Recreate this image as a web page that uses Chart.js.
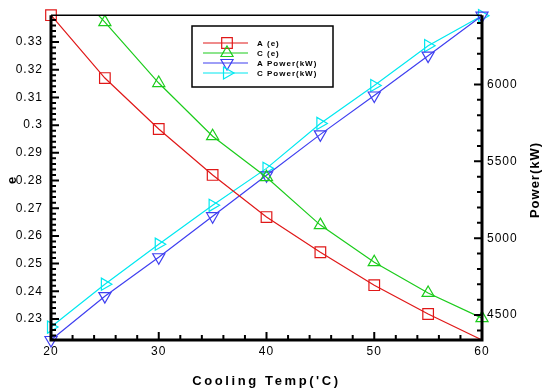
<!DOCTYPE html>
<html>
<head>
<meta charset="utf-8">
<script src="https://cdn.jsdelivr.net/npm/chart.js@4.4.0/dist/chart.umd.min.js"></script>
<style>
  html, body { margin: 0; padding: 0; background: #fff; }
  #wrap { width: 542px; height: 390px; }
</style>
</head>
<body>
<div id="wrap"><canvas id="chart"></canvas></div>
<script>
// data
const temps = [20, 25, 30, 35, 40, 45, 50, 55, 60];
const aE = [0.3397, 0.317, 0.2986, 0.282, 0.2668, 0.2541, 0.2422, 0.2318, 0.2224];
const cE = [0.358, 0.3372, 0.3152, 0.296, 0.2812, 0.2639, 0.2505, 0.2394, 0.2303];
const aPower = [4338, 4623, 4876, 5143, 5409, 5675, 5928, 6187, 6447];
const cPower = [4422, 4701, 4961, 5214, 5454, 5746, 5993, 6252, 6447];

const xTicks = [20, 30, 40, 50, 60];
const eTicks = [0.23, 0.24, 0.25, 0.26, 0.27, 0.28, 0.29, 0.3, 0.31, 0.32, 0.33];
const powerTicks = [4500, 5000, 5500, 6000];

const seriesNames = ['A (e)', 'C (e)', 'A Power(kW)', 'C Power(kW)'];

const RED = '#e01818', GREEN = '#1ccc1c', BLUE = '#3f3ff0', CYAN = '#00e8f0';

function pts(ys) {
    return temps.map((t, i) => ({ x: t, y: ys[i] }));
}

function series(label, ys, color, style, rot, radius, axis, clip) {
    const ds = {
        label: label,
        data: pts(ys),
        yAxisID: axis,
        borderColor: color,
        borderWidth: 1.2,
        pointStyle: style,
        rotation: rot,
        pointRadius: radius,
        pointBorderColor: color,
        pointBackgroundColor: 'rgba(0,0,0,0)',
        pointBorderWidth: 1.2,
        tension: 0
    };
    if (clip !== undefined) ds.clip = clip;
    return ds;
}

// axis frame, inward ticks, y titles and the boxed legend
const decorPlugin = {
    id: 'decor',
    beforeDraw(chart) {
        chart.ctx.letterSpacing = '1px';
    },
    afterDraw(chart) {
        const ctx = chart.ctx;
        const a = chart.chartArea;
        const xs = chart.scales.x, yl = chart.scales.y, yr = chart.scales.y2;
        ctx.save();
        ctx.strokeStyle = '#000';

        // frame
        ctx.lineWidth = 1.5;
        ctx.beginPath();
        ctx.moveTo(a.left, a.top); ctx.lineTo(a.right, a.top);
        ctx.stroke();
        ctx.lineWidth = 3;
        ctx.beginPath();
        ctx.moveTo(a.left, a.top); ctx.lineTo(a.left, a.bottom); ctx.lineTo(a.right, a.bottom); ctx.lineTo(a.right, a.top);
        ctx.stroke();

        ctx.lineWidth = 2;
        ctx.beginPath();
        // x ticks
        for (let v = 20; v <= 60.001; v += 2) {
            const px = xs.getPixelForValue(v);
            const len = (Math.round(v) % 10 === 0) ? 8 : 5;
            ctx.moveTo(px, a.bottom); ctx.lineTo(px, a.bottom - len);
        }
        // left ticks
        for (let k = 112; k <= 169; k++) {
            const v = k * 0.002;
            if (v < yl.min || v > yl.max) continue;
            const py = yl.getPixelForValue(v);
            const len = (k % 5 === 0) ? 8 : 5;
            ctx.moveTo(a.left, py); ctx.lineTo(a.left + len, py);
        }
        // right ticks
        for (let v = 4400; v <= 6400; v += 100) {
            const py = yr.getPixelForValue(v);
            const len = (v % 500 === 0) ? 8 : 5;
            ctx.moveTo(a.right, py); ctx.lineTo(a.right - len, py);
        }
        ctx.stroke();

        // titles
        ctx.fillStyle = '#000';
        ctx.textAlign = 'center';
        ctx.textBaseline = 'middle';
        ctx.font = 'bold 13px "Liberation Sans", Arial, sans-serif';
        ctx.letterSpacing = '2.6px';
        ctx.fillText("Cooling Temp('C)", (a.left + a.right) / 2, 381);

        ctx.letterSpacing = '1px';
        ctx.save();
        ctx.translate(12, 180);
        ctx.rotate(-Math.PI / 2);
        ctx.fillText('e', 0, 0);
        ctx.restore();

        ctx.save();
        ctx.translate(535, 180);
        ctx.rotate(-Math.PI / 2);
        ctx.fillText('Power(kW)', 0, 0);
        ctx.restore();

        // legend
        const lx = 192, ly = 26, lw = 141, lh = 61;
        ctx.fillStyle = '#fff';
        ctx.fillRect(lx, ly, lw, lh);
        ctx.lineWidth = 1.5;
        ctx.strokeStyle = '#000';
        ctx.strokeRect(lx, ly, lw, lh);

        ctx.font = 'bold 8px "Liberation Sans", Arial, sans-serif';
        ctx.textAlign = 'left';
        ctx.letterSpacing = '1px';
        chart.data.datasets.forEach((ds, i) => {
            const y = 43 + i * 10;
            ctx.strokeStyle = ds.borderColor;
            ctx.lineWidth = 1.2;
            ctx.beginPath();
            ctx.moveTo(203, y); ctx.lineTo(248, y);
            ctx.stroke();
            ctx.fillStyle = 'rgba(0,0,0,0)';
            Chart.helpers.drawPoint(ctx, {
                pointStyle: ds.pointStyle,
                rotation: ds.rotation,
                radius: Array.isArray(ds.pointRadius) ? ds.pointRadius[0] : ds.pointRadius,
                borderWidth: 1.2
            }, 227, y);
            ctx.fillStyle = '#000';
            ctx.fillText(seriesNames[i], 257, y + 0.5);
        });
        ctx.restore();
    }
};

const tickFont = { family: '"Liberation Sans", Arial, sans-serif', size: 12 };

// the last A (e) marker is not shown in the original
const aERadius = temps.map((t, i) => (i === temps.length - 1 ? 0 : 7.5));

new Chart(document.getElementById('chart'), {
    type: 'line',
    data: {
        datasets: [
            series(seriesNames[0], aE, RED, 'rect', 0, aERadius, 'y', false),
            series(seriesNames[1], cE, GREEN, 'triangle', 0, 7, 'y', { left: 10, top: 0, right: 10, bottom: 10 }),
            series(seriesNames[2], aPower, BLUE, 'triangle', 180, 7, 'y2', false),
            series(seriesNames[3], cPower, CYAN, 'triangle', 90, 7, 'y2', false)
        ]
    },
    options: {
        responsive: true,
        maintainAspectRatio: false,
        animation: false,
        layout: { padding: { top: 15, left: 0, right: 0, bottom: 0 } },
        plugins: {
            legend: { display: false },
            tooltip: { enabled: false }
        },
        scales: {
            x: {
                type: 'linear',
                min: 20,
                max: 60,
                afterBuildTicks: s => { s.ticks = xTicks.map(v => ({ value: v })); },
                afterFit: s => { s.height = 50; },
                grid: { display: false, drawTicks: false },
                border: { display: false },
                ticks: { color: '#000', font: tickFont, padding: 4, maxRotation: 0 }
            },
            y: {
                position: 'left',
                min: 0.2224,
                max: 0.3397,
                afterBuildTicks: s => { s.ticks = eTicks.map(v => ({ value: v })); },
                afterFit: s => { s.width = 51; },
                grid: { display: false, drawTicks: false },
                border: { display: false },
                ticks: {
                    color: '#000', font: tickFont, padding: 8,
                    callback: v => String(Math.round(v * 100) / 100)
                }
            },
            y2: {
                position: 'right',
                min: 4338,
                max: 6450,
                afterBuildTicks: s => { s.ticks = powerTicks.map(v => ({ value: v })); },
                afterFit: s => { s.width = 60; },
                grid: { display: false, drawTicks: false },
                border: { display: false },
                ticks: { color: '#000', font: tickFont, padding: 5, callback: v => String(v) }
            }
        }
    },
    plugins: [decorPlugin]
});
</script>
</body>
</html>
